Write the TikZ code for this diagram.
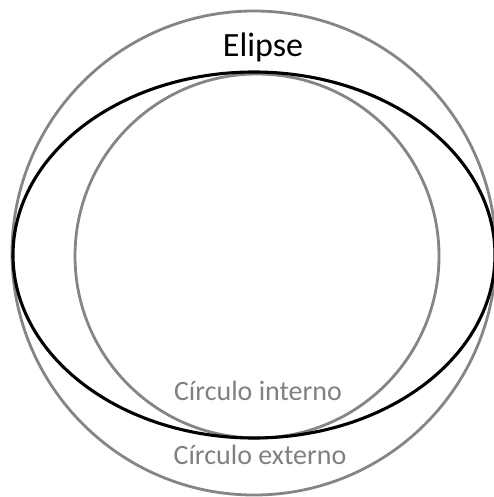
\documentclass[tikz,border=0pt]{standalone}
\usepackage{fontspec}
\setmainfont{Carlito}
\begin{document}
\begin{tikzpicture}[x=1pt,y=-1pt,
  circ/.style={draw=black!48, line width=2.8pt},
  ell/.style={draw=black, line width=3.1pt},
  gtxt/.style={text=black!50, font=\fontsize{28}{30}\selectfont, inner sep=0pt},
  btxt/.style={text=black, font=\fontsize{34}{36}\selectfont, inner sep=0pt}]
\useasboundingbox (0,0) rectangle (494,497);
\begin{scope}
\clip (0,0) rectangle (494,497);
\draw[circ] (254,253) circle [radius=242];
\draw[circ] (257,256) circle [radius=182];
\draw[ell] (254,255) ellipse [x radius=241, y radius=183];
\end{scope}
\node[btxt] (elipse) at (263,47) {Elipse};
\node[gtxt] (interno) at (258,391) {Círculo interno};
\node[gtxt] (externo) at (260,455) {Círculo externo};
\end{tikzpicture}
\end{document}
